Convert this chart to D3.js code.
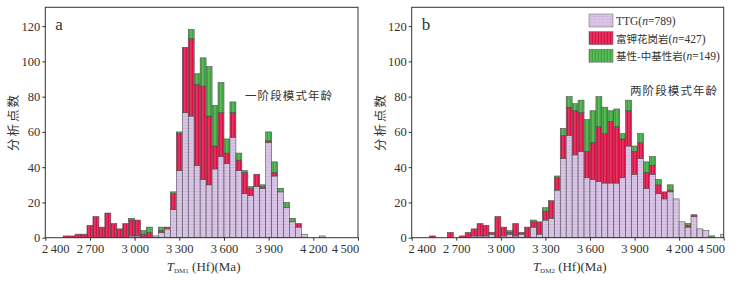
<!DOCTYPE html>
<html>
<head>
<meta charset="utf-8">
<script src="https://cdn.jsdelivr.net/npm/d3@7"></script>
<style>
  body { margin: 0; background: #fff; }
  text { font-family: "Liberation Serif", "Times New Roman", serif; fill: #333; }
  .cjk { font-family: "Noto Sans CJK SC", sans-serif; }
</style>
</head>
<body>
<script>
// bins: 40 Ma wide, first bin starts at 2520 Ma
const binStart = 2520, binWidth = 40;
const xTicks = [2400, 2700, 3000, 3300, 3600, 3900, 4200, 4500];
const yTicks = [0, 20, 40, 60, 80, 100, 120];

// panel a (T_DM1) counts per bin
const ttgA = [0,0,0,0,0,0,0,0,0,0,0,1,1,0,0,1,3,5,16,38,71,69,41,33,30,39,46,42,57,38,25,24,29,28,54,35,26,17,9,6,2,0,0,1];
const potA = [1,1,2,2,7,12,6,14,8,5,8,9,9,2,3,0,1,1,9,21,37,44,46,53,39,13,25,6,14,6,12,4,7,1,1,2,0,0,0,2,0,0,0,0];
const mafA = [0,0,0,0,0,0,0,0,0,0,0,1,0,2,3,0,2,0,1,1,0,5,6,16,28,23,17,8,6,4,1,1,0,1,5,6,2,3,2,0,0,0,0,0];

// panel b (T_DM2) counts per bin
const ttgB = [0,0,0,0,0,0,0,1,1,1,2,0,1,2,1,2,0,6,2,10,11,27,45,58,47,49,34,33,32,31,31,31,34,52,36,45,28,36,25,22,26,22,9,6,12,5,4,0,0,2];
const potB = [1,0,0,3,0,1,3,4,7,6,1,12,5,1,7,1,6,3,7,5,10,7,13,16,25,22,15,21,31,28,35,32,22,20,13,9,9,5,5,4,1,0,0,1,1,0,0,0,0,0];
const mafB = [0,0,0,0,0,0,0,0,0,0,0,0,0,1,0,0,0,1,0,2,0,1,4,6,4,7,18,18,17,15,6,10,3,6,3,5,6,5,3,0,3,0,0,1,0,0,0,1,0,0];

const groups = ["TTG", "富钾花岗岩", "基性-中基性岩"];
const groupN = [789, 427, 149];

const W = 742, H = 281;
const svg = d3.select("body").append("svg").attr("width", W).attr("height", H);
const defs = svg.append("defs");

// fill patterns
const pTTG = defs.append("pattern").attr("id", "pTTG").attr("patternUnits", "userSpaceOnUse")
  .attr("width", 4).attr("height", 3);
pTTG.append("rect").attr("width", 4).attr("height", 3).attr("fill", "#dbc7e7");
pTTG.append("rect").attr("y", 2).attr("width", 4).attr("height", 0.6).attr("fill", "#c9afd9");
pTTG.append("rect").attr("x", 1.5).attr("width", 0.6).attr("height", 2).attr("fill", "#cdb5dc");

const pPot = defs.append("pattern").attr("id", "pPot").attr("patternUnits", "userSpaceOnUse")
  .attr("width", 3).attr("height", 4);
pPot.append("rect").attr("width", 3).attr("height", 4).attr("fill", "#dc0f45");
pPot.append("rect").attr("x", 1.6).attr("width", 0.7).attr("height", 4).attr("fill", "#ee6a8a");

const pMaf = defs.append("pattern").attr("id", "pMaf").attr("patternUnits", "userSpaceOnUse")
  .attr("width", 3).attr("height", 4);
pMaf.append("rect").attr("width", 3).attr("height", 4).attr("fill", "#3aa540");
pMaf.append("rect").attr("x", 1.6).attr("width", 0.7).attr("height", 4).attr("fill", "#8fd57d");

const fills = ["url(#pTTG)", "url(#pPot)", "url(#pMaf)"];

const plotTop = 8.5, plotBottom = 237.7;
const y = d3.scaleLinear().domain([0, 130]).range([plotBottom, plotTop]);

function drawPanel(id, left, right, series, letter, note, sub) {
  const x = d3.scaleLinear().domain([2400, 4500]).range([left, right]);
  const g = svg.append("g");

  defs.append("clipPath").attr("id", "clip" + id)
    .append("rect").attr("x", left).attr("y", plotTop - 10).attr("width", right - left)
    .attr("height", plotBottom - plotTop + 10);

  const rows = series[0].map((_, i) => {
    const start = binStart + i * binWidth;
    let acc = 0;
    return series.map((s, k) => {
      const seg = { start, k, y0: acc, y1: acc + s[i] };
      acc += s[i];
      return seg;
    });
  }).flat().filter(d => d.y1 > d.y0);

  g.append("g").attr("clip-path", `url(#clip${id})`)
    .selectAll("rect").data(rows).join("rect")
    .attr("x", d => x(d.start))
    .attr("width", d => x(d.start + binWidth) - x(d.start))
    .attr("y", d => y(d.y1))
    .attr("height", d => y(d.y0) - y(d.y1))
    .attr("fill", d => fills[d.k])
    .attr("stroke", "#4d4d4d")
    .attr("stroke-width", 0.6);

  // frame
  g.append("rect").attr("x", left).attr("y", plotTop - 1.2).attr("width", right - left)
    .attr("height", plotBottom - plotTop + 1.2).attr("fill", "none").attr("stroke", "#333").attr("stroke-width", 1);

  const xa = g.append("g").attr("transform", `translate(0,${plotBottom})`)
    .call(d3.axisBottom(x).tickValues(xTicks).tickSize(3).tickPadding(3)
      .tickFormat(d => d3.format(",")(d).replace(",", "\u2009")));
  xa.select(".domain").remove();
  xa.selectAll("line").attr("stroke", "#333");
  xa.selectAll("text").style("font-size", "12.5px").attr("fill", "#333")
    .attr("dx", d => d === 2400 ? 10 : d === 4500 ? -13 : 0);

  const ya = g.append("g").attr("transform", `translate(${left},0)`)
    .call(d3.axisLeft(y).tickValues(yTicks).tickSize(3).tickPadding(2));
  ya.select(".domain").remove();
  ya.selectAll("line").attr("stroke", "#333");
  ya.selectAll("text").style("font-size", "12.5px").attr("fill", "#333");

  g.append("text").attr("x", left + 10).attr("y", 30).style("font-size", "17px").text(letter);

  g.append("text").attr("class", "cjk").attr("x", note[1]).attr("y", note[2])
    .style("font-size", "11.5px").style("letter-spacing", "1.1px")
    .attr("fill", "#555").text(note[0]);

  g.append("text").attr("class", "cjk")
    .attr("transform", `translate(${left - 27},${122}) rotate(-90)`)
    .attr("text-anchor", "middle").style("font-size", "12.5px").style("letter-spacing", "2px")
    .attr("fill", "#555").text("分析点数");

  const t = g.append("text").attr("x", (left + right) / 2 + 2).attr("y", 271)
    .attr("text-anchor", "middle").style("font-size", "13px");
  t.append("tspan").style("font-style", "italic").text("T");
  t.append("tspan").attr("dy", 2).style("font-size", "7px").text(sub);
  t.append("tspan").attr("dy", -2).text(" (Hf)(Ma)");
}

drawPanel("a", 45.3, 358, [ttgA, potA, mafA], "a", ["一阶段模式年龄", 245, 99.5], "DM1");
drawPanel("b", 411.7, 723.7, [ttgB, potB, mafB], "b", ["两阶段模式年龄", 630, 94.5], "DM2");

// legend (panel b)
const leg = svg.append("g").attr("transform", "translate(589,14)");
groups.forEach((name, i) => {
  const row = leg.append("g").attr("transform", `translate(0,${i * 17.6})`);
  row.append("rect").attr("width", 24).attr("height", 13).attr("fill", fills[i])
    .attr("stroke", "#666").attr("stroke-width", 0.5);
  const t = row.append("text").attr("x", 27).attr("y", 11).style("font-size", "11.5px");
  t.append("tspan").attr("class", i === 0 ? null : "cjk").style("font-size", i === 0 ? null : "10.5px").text(name);
  t.append("tspan").text("(");
  t.append("tspan").style("font-style", "italic").text("n");
  t.append("tspan").text("=" + groupN[i] + ")");
});
</script>
</body>
</html>
